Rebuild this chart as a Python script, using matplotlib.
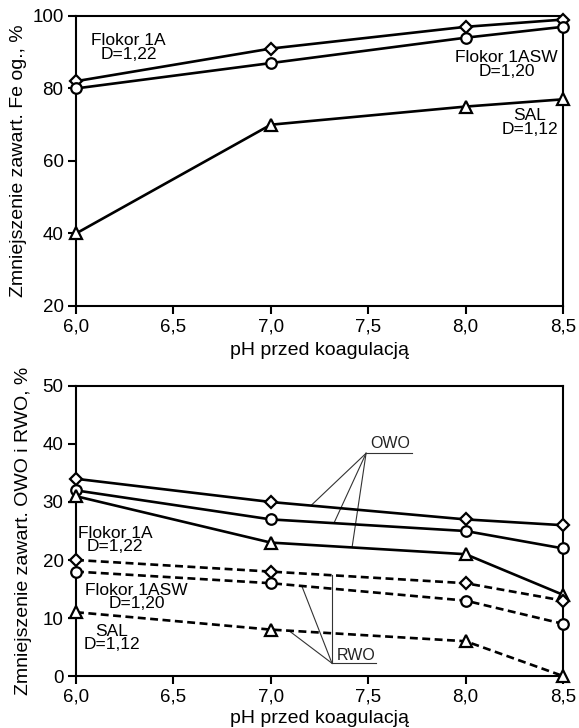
import numpy as np
import matplotlib
matplotlib.use("Agg")
import matplotlib.pyplot as plt

plt.rcParams["font.family"] = ["Liberation Sans", "DejaVu Sans"]

# ===== DATA =====
ph = [6.0, 7.0, 8.0, 8.5]
ph_ticks = [6.0, 6.5, 7.0, 7.5, 8.0, 8.5]
ph_labels = ["6,0", "6,5", "7,0", "7,5", "8,0", "8,5"]

# top: reduction of total Fe, %
fe_1a = [82, 91, 97, 99]        # Flokor 1A
fe_1asw = [80, 87, 94, 97]      # Flokor 1ASW
fe_sal = [40, 70, 75, 77]       # SAL
fe_ticks = [20, 40, 60, 80, 100]

# bottom: OWO (solid) and RWO (dashed), %
owo_1a = [34, 30, 27, 26]
owo_1asw = [32, 27, 25, 22]
owo_sal = [31, 23, 21, 14]
rwo_1a = [20, 18, 16, 13]
rwo_1asw = [18, 16, 13, 9]
rwo_sal = [11, 8, 6, 0]
owo_ticks = [0, 10, 20, 30, 40, 50]

# ===== STYLE =====
LW = 1.9
MEW = 1.6
mk = {"D": 6.0, "o": 7.6, "^": 8.6}
DASH = (0, (3.0, 1.7))


def series(ax, y, marker, ls="-"):
    ax.plot(ph, y, color="black", lw=LW, ls=ls, marker=marker, ms=mk[marker],
            mfc="white", mec="black", mew=MEW, clip_on=False, zorder=4)


def style_axes(ax, yticks, ylabel, ylab_x, xpad):
    ax.set_xlim(6.0, 8.5)
    ax.set_ylim(yticks[0], yticks[-1])
    ax.set_xticks(ph_ticks)
    ax.set_xticklabels(ph_labels)
    ax.set_yticks(yticks)
    ax.tick_params(direction="out", length=6, width=1.5, pad=3, labelsize=13.5)
    for s in ax.spines.values():
        s.set_linewidth(1.5)
    ax.set_xlabel("pH przed koagulacją", fontsize=14, labelpad=xpad)
    ax.set_ylabel(ylabel, fontsize=14)
    ax.yaxis.set_label_coords(ylab_x, 0.5)


fig = plt.figure(figsize=(5.79, 7.28), dpi=100)
ax1 = fig.add_axes([0.1313, 0.5797, 0.8411, 0.3984])
ax2 = fig.add_axes([0.1313, 0.0714, 0.8411, 0.3984])

# ----- top panel -----
series(ax1, fe_1a, "D")
series(ax1, fe_1asw, "o")
series(ax1, fe_sal, "^")
style_axes(ax1, fe_ticks, "Zmniejszenie zawart. Fe og., %", -0.10, 5)
txt = dict(fontsize=12.5, ha="center", va="center", linespacing=0.88)
ax1.text(6.27, 91.3, "Flokor 1A\nD=1,22", **txt)
ax1.text(8.21, 86.6, "Flokor 1ASW\nD=1,20", **txt)
ax1.text(8.33, 70.6, "SAL\nD=1,12", **txt)

# ----- bottom panel -----
series(ax2, owo_1a, "D")
series(ax2, owo_1asw, "o")
series(ax2, owo_sal, "^")
series(ax2, rwo_1a, "D", DASH)
series(ax2, rwo_1asw, "o", DASH)
series(ax2, rwo_sal, "^", DASH)
style_axes(ax2, owo_ticks, "Zmniejszenie zawart. OWO i RWO, %", -0.09, 3)
ax2.text(6.2, 23.45, "Flokor 1A\nD=1,22", **txt)
ax2.text(6.31, 13.6, "Flokor 1ASW\nD=1,20", **txt)
ax2.text(6.185, 6.55, "SAL\nD=1,12", **txt)

# leader lines for OWO / RWO
thin = dict(color="#333333", lw=0.8, zorder=3)
ox, oy = 7.489, 38.4
ax2.plot([ox, 7.725], [oy, oy], **thin)
ax2.text(7.612, 40.0, "OWO", fontsize=11.5, ha="center", va="center", color="#222222")
for xe, ys in [(7.206, owo_1a), (7.324, owo_1asw), (7.417, owo_sal)]:
    ax2.plot([ox, xe], [oy, np.interp(xe, ph, ys)], **thin)

rx, ry = 7.314, 2.2
ax2.plot([rx, 7.54], [ry, ry], **thin)
ax2.text(7.437, 3.6, "RWO", fontsize=11.5, ha="center", va="center", color="#222222")
for xe, ys in [(7.314, rwo_1a), (7.159, rwo_1asw), (7.093, rwo_sal)]:
    ax2.plot([rx, xe], [ry, np.interp(xe, ph, ys)], **thin)

fig.savefig("out.png", dpi=100)
